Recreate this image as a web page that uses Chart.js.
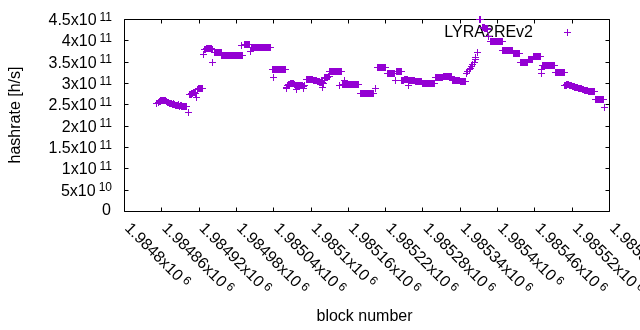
<!DOCTYPE html>
<html>
<head>
<meta charset="utf-8">
<script src="https://cdn.jsdelivr.net/npm/chart.js@4.4.1/dist/chart.umd.min.js"></script>
<style>
  html, body { margin: 0; padding: 0; background: #fff; }
  canvas { display: block; }
</style>
</head>
<body>
<canvas id="myChart" width="640" height="330"></canvas>
<script>
// block number / hashrate (each line of blocks matches the same line of hashrate)
const blocks = [
  1984853,
  1984856, 1984857, 1984858, 1984859, 1984860, 1984861, 1984862, 1984863, 1984864, 1984865,
  1984866, 1984867, 1984868, 1984869, 1984870, 1984871, 1984872, 1984873, 1984874, 1984875,
  1984876, 1984877, 1984878, 1984879, 1984880, 1984881, 1984882, 1984883, 1984884, 1984885,
  1984886, 1984887, 1984888, 1984889, 1984890, 1984891, 1984892, 1984893, 1984894, 1984895,
  1984896, 1984897, 1984898, 1984899, 1984900,
  1984903, 1984906, 1984907, 1984908, 1984909, 1984910, 1984911, 1984912, 1984913, 1984914, 1984915, 1984917,
  1984918, 1984919, 1984920, 1984921, 1984922, 1984923, 1984924, 1984925, 1984926, 1984928,
  1984930, 1984931, 1984932, 1984933, 1984934, 1984935, 1984936, 1984937, 1984938, 1984939, 1984940, 1984941, 1984942,
  1984943, 1984945, 1984946, 1984947, 1984948, 1984949, 1984950, 1984951, 1984952, 1984953, 1984954, 1984955, 1984956,
  1984957, 1984958, 1984959, 1984960, 1984961, 1984962, 1984963, 1984964, 1984965, 1984966,
  1984967, 1984968, 1984969, 1984970, 1984971, 1984972, 1984973, 1984974, 1984975, 1984976,
  1984977, 1984978, 1984979, 1984980, 1984981, 1984982, 1984983, 1984984, 1984985, 1984986,
  1984987, 1984988, 1984989, 1984990, 1984989,
  1984994, 1984995, 1984996, 1984997, 1984998, 1984999, 1985000, 1985001, 1985002, 1985004,
  1985005, 1985006, 1985007, 1985008, 1985009, 1985010, 1985011, 1985012, 1985013, 1985014,
  1985015, 1985016, 1985017, 1985018, 1985019, 1985020, 1985021, 1985022, 1985023, 1985024,
  1985025, 1985026, 1985027, 1985028, 1985029, 1985030, 1985031, 1985032, 1985033, 1985034,
  1985035, 1985036, 1985040,
  1985039, 1985041, 1985042, 1985043, 1985044, 1985045, 1985046, 1985047, 1985048, 1985049,
  1985050, 1985051, 1985052, 1985053, 1985054, 1985055, 1985056, 1985057, 1985058, 1985059, 1985060,
  1985061, 1985062, 1985063, 1985064, 1985065, 1985066, 1985067, 1985068, 1985069, 1985070,
  1985071, 1985072, 1985073, 1985074, 1985075, 1985076, 1985077, 1985078, 1985079, 1985080,
  1985081, 1985082, 1985083, 1985084, 1985085, 1985086, 1985087, 1985088, 1985089, 1985090,
  1985093, 1985094, 1985095, 1985096, 1985097, 1985098, 1985099, 1985100, 1985101, 1985102,
  1985103, 1985104, 1985105, 1985106, 1985107, 1985108, 1985109, 1985110,
  1985111, 1985112, 1985113, 1985114, 1985115, 1985116, 1985117, 1985118, 1985119, 1985120, 1985121,
  1985120, 1985122, 1985123, 1985124, 1985125, 1985126, 1985127, 1985128, 1985129, 1985130,
  1985131, 1985132, 1985133, 1985134, 1985135, 1985136, 1985137, 1985138, 1985139, 1985140,
  1985141, 1985142, 1985143, 1985144, 1985145, 1985146, 1985147, 1985148, 1985149, 1985147, 1985155,
  1985151, 1985152, 1985153, 1985154, 1985155, 1985156, 1985157, 1985158, 1985159, 1985160,
  1985161, 1985162, 1985163, 1985164, 1985165, 1985166, 1985167, 1985168, 1985169, 1985170,
  1985171, 1985172, 1985173, 1985174, 1985175, 1985176, 1985177,
  1985180, 1985181, 1985182, 1985183, 1985184, 1985185, 1985186, 1985187, 1985188, 1985189,
  1985190, 1985191, 1985192, 1985193, 1985194, 1985195, 1985196, 1985197, 1985198, 1985199,
  1985200, 1985201, 1985202, 1985204,
  1985207, 1985208, 1985209, 1985210, 1985211, 1985212, 1985213, 1985214, 1985215, 1985216,
  1985217, 1985218, 1985219, 1985220, 1985221,
  1985223, 1985224, 1985225, 1985226, 1985227, 1985228, 1985229, 1985230, 1985231, 1985232,
  1985233, 1985234, 1985235, 1985237,
  1985238, 1985239, 1985240, 1985241, 1985242, 1985243, 1985244, 1985245, 1985246,
  1985247, 1985248, 1985249, 1985250, 1985251, 1985252, 1985253, 1985254, 1985255, 1985256,
  1985257, 1985258, 1985259, 1985260, 1985261, 1985262, 1985263, 1985264, 1985265, 1985266,
  1985267, 1985257,
  1985269, 1985270, 1985271, 1985272, 1985273, 1985274, 1985275, 1985276, 1985277, 1985278,
  1985280, 1985281, 1985282, 1985283, 1985284, 1985285, 1985286, 1985287, 1985288, 1985289,
  1985290, 1985291, 1985292, 1985293, 1985294, 1985295, 1985296, 1985297, 1985298, 1985299,
  1985301, 1985302, 1985303, 1985304, 1985305, 1985306, 1985307, 1985308, 1985309, 1985310,
  1985311, 1985312,
  1985314, 1985315, 1985316, 1985317, 1985318, 1985319, 1985320, 1985321, 1985322, 1985323,
  1985324, 1985325, 1985326,
  1985328, 1985329, 1985330, 1985331, 1985332, 1985333, 1985334, 1985335, 1985336, 1985337,
  1985338, 1985339,
  1985341, 1985342, 1985343, 1985344, 1985345, 1985346, 1985347, 1985348, 1985349,
  1985351, 1985353, 1985355, 1985357, 1985359, 1985361, 1985363, 1985365, 1985366, 1985368,
  1985372, 1985373,
  1985376, 1985377, 1985378, 1985379, 1985380, 1985381, 1985382, 1985383, 1985384, 1985385, 1985387,
  1985390, 1985391, 1985392, 1985393, 1985394, 1985395, 1985396, 1985397, 1985398, 1985399,
  1985400, 1985401, 1985402, 1985403, 1985404, 1985405, 1985406, 1985407, 1985408,
  1985409, 1985410, 1985411, 1985412, 1985413, 1985414, 1985415, 1985416, 1985417, 1985418,
  1985419, 1985420, 1985421, 1985422, 1985423, 1985424,
  1985426, 1985427, 1985428, 1985429, 1985430, 1985431, 1985432, 1985433, 1985434, 1985435, 1985436,
  1985438, 1985439, 1985440, 1985441, 1985442, 1985443, 1985444, 1985445, 1985446, 1985447,
  1985448, 1985449,
  1985451, 1985452, 1985453, 1985454, 1985455, 1985456, 1985457,
  1985459, 1985460, 1985461, 1985462, 1985463, 1985464, 1985465, 1985466, 1985467, 1985468,
  1985469, 1985470, 1985471, 1985472,
  1985473, 1985474, 1985475, 1985476, 1985477, 1985478, 1985479, 1985480, 1985481, 1985482,
  1985483, 1985484, 1985485, 1985486, 1985487, 1985488, 1985489, 1985490, 1985491, 1985492,
  1985494, 1985495, 1985496, 1985497, 1985498, 1985499, 1985500, 1985501, 1985502, 1985503,
  1985504, 1985505, 1985506, 1985507, 1985508,
  1985509, 1985510, 1985511, 1985512, 1985513, 1985514, 1985515, 1985516, 1985517, 1985518,
  1985519, 1985520, 1985521, 1985522, 1985523, 1985524, 1985525, 1985526, 1985527, 1985528,
  1985529, 1985530, 1985531, 1985532, 1985533, 1985534, 1985535, 1985536, 1985537, 1985538,
  1985539, 1985540, 1985541, 1985542, 1985543, 1985544, 1985545, 1985546, 1985547, 1985548,
  1985549, 1985550, 1985551, 1985552, 1985553, 1985554, 1985555, 1985556,
  1985559, 1985560, 1985561, 1985562, 1985563, 1985564, 1985565, 1985566, 1985567, 1985568,
  1985569, 1985570, 1985571, 1985573
];
const hashrate = [
  2.51e11,
  2.55e11, 2.56e11, 2.57e11, 2.58e11, 2.59e11, 2.60e11, 2.60e11, 2.60e11, 2.60e11, 2.59e11,
  2.59e11, 2.58e11, 2.57e11, 2.56e11, 2.55e11, 2.55e11, 2.54e11, 2.53e11, 2.52e11, 2.52e11,
  2.51e11, 2.51e11, 2.50e11, 2.50e11, 2.52e11, 2.49e11, 2.49e11, 2.48e11, 2.48e11, 2.47e11,
  2.47e11, 2.48e11, 2.49e11, 2.46e11, 2.46e11, 2.47e11, 2.47e11, 2.45e11, 2.45e11, 2.46e11,
  2.46e11, 2.46e11, 2.46e11, 2.45e11, 2.45e11,
  2.31e11, 2.72e11, 2.73e11, 2.74e11, 2.75e11, 2.76e11, 2.77e11, 2.77e11, 2.77e11, 2.77e11, 2.76e11, 2.66e11,
  2.84e11, 2.85e11, 2.86e11, 2.86e11, 2.86e11, 2.87e11, 2.87e11, 2.86e11, 2.86e11, 3.66e11,
  3.78e11, 3.79e11, 3.80e11, 3.80e11, 3.80e11, 3.80e11, 3.80e11, 3.80e11, 3.80e11, 3.80e11, 3.80e11, 3.79e11, 3.79e11,
  3.49e11, 3.72e11, 3.72e11, 3.72e11, 3.72e11, 3.72e11, 3.72e11, 3.72e11, 3.72e11, 3.72e11, 3.72e11, 3.72e11, 3.72e11,
  3.65e11, 3.65e11, 3.65e11, 3.65e11, 3.65e11, 3.65e11, 3.65e11, 3.65e11, 3.65e11, 3.65e11,
  3.65e11, 3.65e11, 3.65e11, 3.65e11, 3.65e11, 3.65e11, 3.65e11, 3.65e11, 3.65e11, 3.65e11,
  3.65e11, 3.65e11, 3.65e11, 3.65e11, 3.65e11, 3.65e11, 3.65e11, 3.65e11, 3.65e11, 3.65e11,
  3.65e11, 3.65e11, 3.65e11, 3.65e11, 3.87e11,
  3.90e11, 3.90e11, 3.90e11, 3.90e11, 3.90e11, 3.90e11, 3.90e11, 3.90e11, 3.90e11, 3.75e11,
  3.83e11, 3.83e11, 3.83e11, 3.83e11, 3.83e11, 3.83e11, 3.83e11, 3.83e11, 3.83e11, 3.83e11,
  3.83e11, 3.83e11, 3.83e11, 3.83e11, 3.83e11, 3.83e11, 3.83e11, 3.83e11, 3.83e11, 3.83e11,
  3.83e11, 3.83e11, 3.83e11, 3.83e11, 3.83e11, 3.83e11, 3.83e11, 3.83e11, 3.83e11, 3.83e11,
  3.83e11, 3.83e11, 3.12e11,
  3.31e11, 3.31e11, 3.31e11, 3.31e11, 3.31e11, 3.31e11, 3.31e11, 3.31e11, 3.31e11, 3.31e11,
  3.31e11, 3.31e11, 3.31e11, 3.31e11, 3.31e11, 3.31e11, 3.31e11, 3.31e11, 3.31e11, 3.31e11, 3.31e11,
  2.88e11, 2.90e11, 2.93e11, 2.95e11, 2.96e11, 2.97e11, 2.98e11, 2.99e11, 3.00e11, 3.00e11,
  3.00e11, 2.99e11, 2.98e11, 2.97e11, 2.96e11, 2.95e11, 2.84e11, 2.94e11, 2.95e11, 2.94e11,
  2.94e11, 2.93e11, 2.93e11, 2.94e11, 2.95e11, 2.94e11, 2.93e11, 2.88e11, 2.92e11, 2.93e11,
  3.08e11, 3.08e11, 3.09e11, 3.09e11, 3.09e11, 3.09e11, 3.09e11, 3.08e11, 3.08e11, 3.08e11,
  3.08e11, 3.07e11, 3.07e11, 3.07e11, 3.07e11, 3.06e11, 3.06e11, 3.05e11,
  3.04e11, 3.03e11, 3.03e11, 3.03e11, 3.02e11, 3.02e11, 3.02e11, 3.01e11, 3.01e11, 3.00e11, 3.00e11,
  2.90e11, 3.11e11, 3.12e11, 3.12e11, 3.13e11, 3.13e11, 3.14e11, 3.14e11, 3.15e11, 3.15e11,
  3.28e11, 3.28e11, 3.28e11, 3.28e11, 3.28e11, 3.28e11, 3.28e11, 3.28e11, 3.28e11, 3.28e11,
  3.28e11, 3.28e11, 3.28e11, 3.28e11, 3.28e11, 3.28e11, 3.28e11, 3.28e11, 3.28e11, 2.93e11, 3.05e11,
  2.96e11, 2.96e11, 2.96e11, 2.96e11, 2.96e11, 2.96e11, 2.96e11, 2.96e11, 2.96e11, 2.96e11,
  2.96e11, 2.96e11, 2.96e11, 2.96e11, 2.96e11, 2.96e11, 2.96e11, 2.96e11, 2.96e11, 2.96e11,
  2.96e11, 2.96e11, 2.96e11, 2.96e11, 2.96e11, 2.96e11, 2.96e11,
  2.76e11, 2.76e11, 2.76e11, 2.76e11, 2.76e11, 2.76e11, 2.76e11, 2.76e11, 2.76e11, 2.76e11,
  2.76e11, 2.76e11, 2.76e11, 2.76e11, 2.76e11, 2.76e11, 2.76e11, 2.76e11, 2.76e11, 2.76e11,
  2.76e11, 2.76e11, 2.76e11, 2.88e11,
  3.36e11, 3.36e11, 3.36e11, 3.36e11, 3.36e11, 3.36e11, 3.36e11, 3.36e11, 3.36e11, 3.36e11,
  3.36e11, 3.36e11, 3.36e11, 3.36e11, 3.36e11,
  3.23e11, 3.23e11, 3.23e11, 3.23e11, 3.23e11, 3.23e11, 3.23e11, 3.23e11, 3.23e11, 3.23e11,
  3.23e11, 3.23e11, 3.23e11, 3.05e11,
  3.27e11, 3.27e11, 3.27e11, 3.27e11, 3.27e11, 3.27e11, 3.27e11, 3.27e11, 3.27e11,
  3.07e11, 3.07e11, 3.07e11, 3.07e11, 3.08e11, 3.08e11, 3.08e11, 3.08e11, 3.08e11, 3.08e11,
  3.07e11, 3.07e11, 3.07e11, 3.07e11, 3.06e11, 3.06e11, 3.06e11, 3.05e11, 3.05e11, 3.05e11,
  3.05e11, 2.94e11,
  3.03e11, 3.03e11, 3.03e11, 3.03e11, 3.03e11, 3.03e11, 3.03e11, 3.03e11, 3.03e11, 3.03e11,
  3.00e11, 3.00e11, 3.00e11, 3.00e11, 3.00e11, 3.00e11, 3.00e11, 3.00e11, 3.00e11, 3.00e11,
  3.00e11, 3.00e11, 3.00e11, 3.00e11, 3.00e11, 3.00e11, 3.00e11, 3.00e11, 3.00e11, 3.00e11,
  3.12e11, 3.12e11, 3.12e11, 3.12e11, 3.12e11, 3.12e11, 3.12e11, 3.12e11, 3.12e11, 3.12e11,
  3.12e11, 3.12e11,
  3.15e11, 3.15e11, 3.15e11, 3.15e11, 3.15e11, 3.15e11, 3.15e11, 3.15e11, 3.15e11, 3.15e11,
  3.15e11, 3.15e11, 3.15e11,
  3.07e11, 3.07e11, 3.07e11, 3.07e11, 3.07e11, 3.07e11, 3.07e11, 3.07e11, 3.07e11, 3.07e11,
  3.07e11, 3.07e11,
  3.03e11, 3.03e11, 3.03e11, 3.03e11, 3.03e11, 3.03e11, 3.03e11, 3.03e11, 3.03e11,
  3.22e11, 3.26e11, 3.31e11, 3.34e11, 3.38e11, 3.43e11, 3.49e11, 3.55e11, 3.59e11, 3.72e11,
  4.48e11, 4.50e11,
  4.31e11, 4.30e11, 4.30e11, 4.29e11, 4.28e11, 4.28e11, 4.28e11, 4.27e11, 4.27e11, 4.26e11, 4.09e11,
  3.97e11, 3.97e11, 3.97e11, 3.97e11, 3.97e11, 3.97e11, 3.97e11, 3.97e11, 3.97e11, 3.97e11,
  3.97e11, 3.97e11, 3.97e11, 3.97e11, 3.97e11, 3.97e11, 3.97e11, 3.97e11, 3.97e11,
  3.77e11, 3.77e11, 3.77e11, 3.77e11, 3.77e11, 3.77e11, 3.77e11, 3.77e11, 3.77e11, 3.77e11,
  3.77e11, 3.77e11, 3.77e11, 3.77e11, 3.77e11, 3.77e11,
  3.70e11, 3.70e11, 3.70e11, 3.70e11, 3.70e11, 3.70e11, 3.70e11, 3.70e11, 3.70e11, 3.70e11, 3.70e11,
  3.48e11, 3.48e11, 3.48e11, 3.48e11, 3.48e11, 3.48e11, 3.48e11, 3.48e11, 3.48e11, 3.48e11,
  3.48e11, 3.48e11,
  3.54e11, 3.54e11, 3.54e11, 3.54e11, 3.54e11, 3.54e11, 3.54e11,
  3.62e11, 3.62e11, 3.62e11, 3.62e11, 3.62e11, 3.62e11, 3.62e11, 3.62e11, 3.62e11, 3.62e11,
  3.62e11, 3.62e11, 3.31e11, 3.23e11,
  3.42e11, 3.42e11, 3.42e11, 3.42e11, 3.42e11, 3.42e11, 3.42e11, 3.42e11, 3.42e11, 3.42e11,
  3.42e11, 3.42e11, 3.42e11, 3.42e11, 3.42e11, 3.42e11, 3.42e11, 3.42e11, 3.42e11, 3.42e11,
  3.24e11, 3.24e11, 3.24e11, 3.24e11, 3.24e11, 3.24e11, 3.24e11, 3.24e11, 3.24e11, 3.24e11,
  3.24e11, 3.24e11, 3.24e11, 3.24e11, 3.24e11,
  2.93e11, 2.93e11, 2.95e11, 2.96e11, 2.97e11, 2.97e11, 2.96e11, 2.95e11, 2.95e11, 2.94e11,
  2.93e11, 2.93e11, 2.92e11, 2.92e11, 2.91e11, 2.91e11, 2.90e11, 2.90e11, 2.90e11, 2.89e11,
  2.89e11, 2.89e11, 2.88e11, 2.88e11, 2.88e11, 2.87e11, 2.86e11, 2.86e11, 2.85e11, 2.85e11,
  2.84e11, 2.83e11, 2.83e11, 2.82e11, 2.82e11, 2.82e11, 2.82e11, 2.82e11, 2.81e11, 2.81e11,
  2.81e11, 2.81e11, 2.81e11, 2.81e11, 2.80e11, 2.80e11, 2.80e11, 2.80e11,
  2.62e11, 2.62e11, 2.62e11, 2.62e11, 2.62e11, 2.62e11, 2.62e11, 2.62e11, 2.62e11, 2.62e11,
  2.62e11, 2.62e11, 2.62e11, 2.43e11
];
const seriesLabel = 'LYRA2REv2';

const xTicks = [1984800, 1984860, 1984920, 1984980, 1985040, 1985100, 1985160,
                1985220, 1985280, 1985340, 1985400, 1985460, 1985520, 1985580];
const xTickLabels = [
  ['1.9848x10', '6'], ['1.98486x10', '6'], ['1.98492x10', '6'], ['1.98498x10', '6'],
  ['1.98504x10', '6'], ['1.9851x10', '6'], ['1.98516x10', '6'], ['1.98522x10', '6'],
  ['1.98528x10', '6'], ['1.98534x10', '6'], ['1.9854x10', '6'], ['1.98546x10', '6'],
  ['1.98552x10', '6'], ['1.98558x10', '6']
];
const yTicks = [0, 5e10, 1e11, 1.5e11, 2e11, 2.5e11, 3e11, 3.5e11, 4e11, 4.5e11];
const yTickLabels = [
  ['0', ''], ['5x10', '10'], ['1x10', '11'], ['1.5x10', '11'], ['2x10', '11'],
  ['2.5x10', '11'], ['3x10', '11'], ['3.5x10', '11'], ['4x10', '11'], ['4.5x10', '11']
];

if (blocks.length !== hashrate.length) console.error('length mismatch', blocks.length, hashrate.length);

const purple = '#9400d3';
const mainFont = '16px "Liberation Sans", Arial, sans-serif';
const supFont = '12px "Liberation Sans", Arial, sans-serif';

// crisp 7x7 '+' like gnuplot's point type 1
const crossImg = document.createElement('canvas');
crossImg.width = 7;
crossImg.height = 7;
const cctx = crossImg.getContext('2d');
cctx.fillStyle = purple;
cctx.fillRect(0, 3, 7, 1);
cctx.fillRect(3, 0, 1, 7);

// gnuplot-like frame, inward ticks, superscript labels, key
const gnuplotLook = {
    id: 'gnuplotLook',
    beforeDatasetsDraw(chart) {
        const { ctx, chartArea: a, scales: { x, y } } = chart;
        const L = Math.round(a.left) + 0.5, R = Math.round(a.right) + 0.5;
        const T = Math.round(a.top) + 0.5, B = Math.round(a.bottom) + 0.5;
        ctx.save();
        ctx.strokeStyle = '#000';
        ctx.lineWidth = 1;
        ctx.beginPath();
        ctx.rect(L, T, R - L, B - T);
        xTicks.forEach(v => {
            const px = Math.round(x.getPixelForValue(v)) + 0.5;
            ctx.moveTo(px, B); ctx.lineTo(px, B - 4);
            ctx.moveTo(px, T); ctx.lineTo(px, T + 4);
        });
        yTicks.forEach(v => {
            const py = Math.round(y.getPixelForValue(v)) + 0.5;
            ctx.moveTo(L, py); ctx.lineTo(L + 4, py);
            ctx.moveTo(R, py); ctx.lineTo(R - 4, py);
        });
        ctx.stroke();

        // key (points get drawn over it, as in the original)
        ctx.fillStyle = '#000';
        ctx.font = mainFont;
        ctx.textAlign = 'right';
        ctx.textBaseline = 'alphabetic';
        ctx.fillText(seriesLabel, 533, 37);
        ctx.drawImage(crossImg, 564, 29);
        ctx.restore();
        ctx.imageSmoothingEnabled = false;
    },
    afterDatasetsDraw(chart) {
        chart.ctx.imageSmoothingEnabled = true;
    },
    afterDraw(chart) {
        const { ctx, chartArea: a, scales: { x, y } } = chart;
        ctx.save();
        ctx.fillStyle = '#000';
        ctx.textBaseline = 'alphabetic';

        // y tick labels
        yTicks.forEach((v, i) => {
            const [m, e] = yTickLabels[i];
            const py = y.getPixelForValue(v);
            ctx.textAlign = 'right';
            if (!e) {
                ctx.font = mainFont;
                ctx.fillText(m, 111, py + 4);
                return;
            }
            ctx.font = supFont;
            const sw = ctx.measureText(e).width;
            ctx.fillText(e, 112, py + 1.7);
            ctx.font = mainFont;
            ctx.fillText(m, 112 - sw - 3, py + 6);
        });

        // x tick labels, rotated -45 like gnuplot
        xTicks.forEach((v, i) => {
            const [m, e] = xTickLabels[i];
            const px = x.getPixelForValue(v);
            ctx.save();
            ctx.translate(px, 229);
            ctx.rotate(Math.PI / 4);
            ctx.textAlign = 'left';
            ctx.font = mainFont;
            ctx.fillText(m, 0, 0);
            const mw = ctx.measureText(m).width;
            ctx.font = supFont;
            ctx.fillText(e, mw + 3, -4.3);
            ctx.restore();
        });

        // axis titles
        ctx.font = mainFont;
        ctx.textAlign = 'center';
        ctx.fillText('block number', (a.left + a.right) / 2 - 2, 321);
        ctx.save();
        ctx.translate(20, (a.top + a.bottom) / 2);
        ctx.rotate(-Math.PI / 2);
        ctx.fillText('hashrate [h/s]', 0, 0);
        ctx.restore();
        ctx.restore();
    }
};

new Chart(document.getElementById('myChart').getContext('2d'), {
    type: 'scatter',
    data: {
        datasets: [{
            label: seriesLabel,
            data: blocks.map((b, i) => ({ x: b, y: hashrate[i] })),
            pointStyle: crossImg,
            pointRadius: 3.5,
            pointHoverRadius: 3.5,
            borderColor: purple,
            backgroundColor: purple,
            borderWidth: 1,
            clip: false
        }]
    },
    options: {
        responsive: false,
        animation: false,
        devicePixelRatio: 1,
        layout: { padding: { top: 19, right: 31, left: 0, bottom: 0 } },
        plugins: { legend: { display: false }, tooltip: { enabled: false } },
        scales: {
            x: {
                type: 'linear',
                min: 1984800,
                max: 1985580,
                afterBuildTicks: s => { s.ticks = xTicks.map(v => ({ value: v })); },
                afterFit: s => { s.height = 119; },
                ticks: { display: false },
                grid: { display: false },
                border: { display: false }
            },
            y: {
                type: 'linear',
                min: 0,
                max: 4.5e11,
                afterBuildTicks: s => { s.ticks = yTicks.map(v => ({ value: v })); },
                afterFit: s => { s.width = 124; },
                ticks: { display: false },
                grid: { display: false },
                border: { display: false }
            }
        }
    },
    plugins: [gnuplotLook]
});
</script>
</body>
</html>
